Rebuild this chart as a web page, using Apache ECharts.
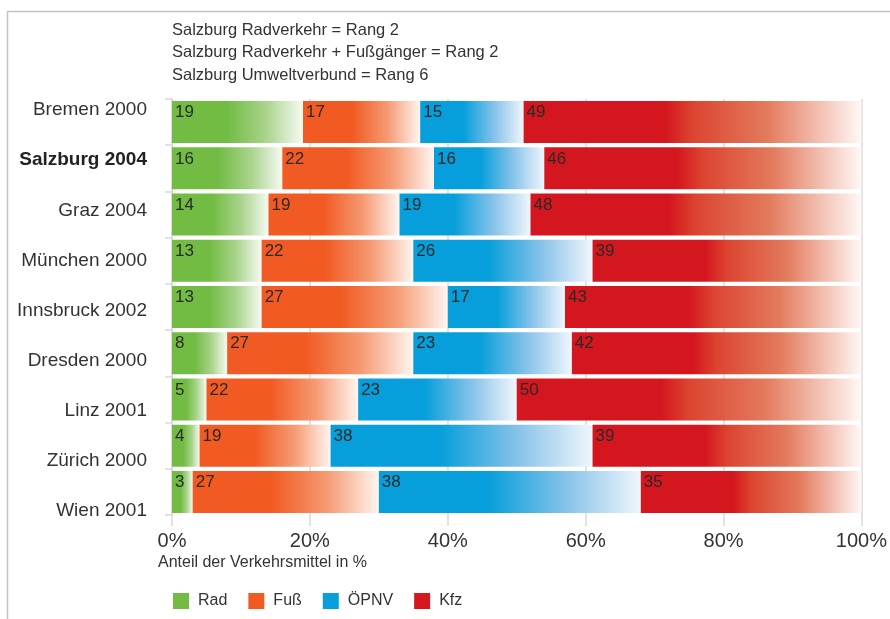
<!DOCTYPE html>
<html>
<head>
<meta charset="utf-8">
<style>
  html, body { margin: 0; padding: 0; background: #ffffff; }
  #chart { width: 890px; height: 619px; }
</style>
<script src="https://cdn.jsdelivr.net/npm/echarts@6/dist/echarts.min.js"></script>
</head>
<body>
<div id="chart"></div>
<script>
// Modal split of transport modes per city (share in %)
const cities = ['Bremen 2000', 'Salzburg 2004', 'Graz 2004', 'München 2000', 'Innsbruck 2002',
                'Dresden 2000', 'Linz 2001', 'Zürich 2000', 'Wien 2001'];
const rad  = [19, 16, 14, 13, 13, 8, 5, 4, 3];
const fuss = [17, 22, 19, 22, 27, 27, 22, 19, 27];
const oepnv = [15, 16, 19, 26, 17, 23, 23, 38, 38];
const kfz  = [49, 46, 48, 39, 43, 42, 50, 39, 35];
const seriesNames = ['Rad', 'Fuß', 'ÖPNV', 'Kfz'];
const xTicks = [0, 20, 40, 60, 80, 100];
const headerLines = ['Salzburg Radverkehr = Rang 2',
                     'Salzburg Radverkehr + Fußgänger = Rang 2',
                     'Salzburg Umweltverbund = Rang 6'];
const highlightCity = 'Salzburg 2004';

const FONT = '"Liberation Sans", Arial, sans-serif';
const TEXT = '#333333';
const GRID_LINE = '#d9d9d9';

// colour ramps: solid on the left, fading to white on the right
const palettes = [
  { base: '#72bc44', mid: '#aad48c', end: '#f6faf2' },
  { base: '#f15a22', mid: '#f59a72', end: '#fff5ef' },
  { base: '#079fdb', mid: '#88c3ea', end: '#f0f6fc' },
  { base: '#d4171f', mid: '#e37a5c', end: '#fff8f6', warm: '#dc4430' }
];

function ramp(p) {
  const stops = [
    { offset: 0, color: p.base },
    { offset: 0.42, color: p.base }
  ];
  if (p.warm) stops.push({ offset: 0.5, color: p.warm });
  stops.push({ offset: 0.72, color: p.mid });
  stops.push({ offset: 1, color: p.end });
  return new echarts.graphic.LinearGradient(0, 0, 1, 0, stops);
}

const values = [rad, fuss, oepnv, kfz];

const series = seriesNames.map((name, i) => ({
  name: name,
  type: 'bar',
  stack: 'total',
  xAxisIndex: 0,
  yAxisIndex: 0,
  barWidth: 42,
  clip: true,
  data: values[i],
  itemStyle: { color: ramp(palettes[i]) },
  label: {
    show: true,
    position: [3, 3],
    color: '#2a2a2a',
    fontFamily: FONT,
    fontSize: 17
  },
  emphasis: { disabled: true }
}));

const chart = echarts.init(document.getElementById('chart'), null, { renderer: 'canvas' });

chart.setOption({
  animation: false,
  backgroundColor: '#ffffff',
  title: [
    {
      text: headerLines.join('\n'),
      left: 172,
      top: 19,
      padding: 0,
      textStyle: { fontFamily: FONT, fontSize: 16.5, fontWeight: 'normal', color: TEXT, lineHeight: 22.5 }
    },
    {
      text: 'Anteil der Verkehrsmittel in %',
      left: 158,
      top: 555,
      padding: 0,
      textStyle: { fontFamily: FONT, fontSize: 16, fontWeight: 'normal', color: TEXT }
    }
  ],
  legend: {
    left: 173,
    top: 593,
    padding: 0,
    itemWidth: 16,
    itemHeight: 16,
    itemGap: 21,
    icon: 'rect',
    selectedMode: false,
    data: seriesNames.map((n, i) => ({ name: n, itemStyle: { color: palettes[i].base } })),
    textStyle: { fontFamily: FONT, fontSize: 16, color: TEXT, padding: [0, 0, 0, 4] }
  },
  grid: [
    // bar area
    { left: 172, right: 22, top: 99, bottom: 104, containLabel: false },
    // city names sit on their own, slightly wider spacing
    { left: 172, right: 22, top: 85, bottom: 83, containLabel: false }
  ],
  xAxis: [
    {
      type: 'value',
      gridIndex: 0,
      min: xTicks[0],
      max: xTicks[xTicks.length - 1],
      interval: xTicks[1] - xTicks[0],
      axisLine: { show: false },
      axisTick: { show: true, length: 11, lineStyle: { color: GRID_LINE, width: 1.5 } },
      splitLine: { show: true, lineStyle: { color: GRID_LINE, width: 1.5 } },
      axisLabel: {
        margin: 16,
        fontFamily: FONT,
        fontSize: 20,
        color: TEXT,
        formatter: v => v + '%'
      }
    },
    {
      type: 'value',
      gridIndex: 1,
      show: false
    }
  ],
  yAxis: [
    {
      type: 'category',
      gridIndex: 0,
      inverse: true,
      data: cities,
      axisLine: { show: true, lineStyle: { color: GRID_LINE, width: 1.5 } },
      axisTick: { show: true, length: 7, lineStyle: { color: GRID_LINE, width: 1.5 } },
      axisLabel: { show: false }
    },
    {
      type: 'category',
      gridIndex: 1,
      inverse: true,
      data: cities,
      axisLine: { show: false },
      axisTick: { show: false },
      splitLine: { show: false },
      axisLabel: {
        margin: 25,
        fontFamily: FONT,
        fontSize: 19,
        color: TEXT,
        formatter: v => v === highlightCity ? '{b|' + v + '}' : v,
        rich: { b: { fontFamily: FONT, fontSize: 19, fontWeight: 'bold', color: '#222222' } }
      }
    }
  ],
  graphic: [
    {
      type: 'polyline',
      silent: true,
      shape: { points: [[7.5, 619], [7.5, 11.5], [890, 11.5]] },
      style: { stroke: '#c4c4c4', lineWidth: 1.5, fill: null }
    }
  ],
  series: series
});
</script>
</body>
</html>
